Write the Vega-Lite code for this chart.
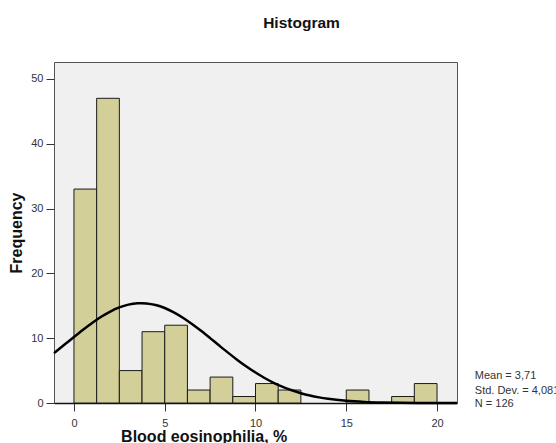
{
  "$schema": "https://vega.github.io/schema/vega-lite/v6.json",
  "width": 403,
  "height": 341,
  "autosize": {"type": "none"},
  "padding": {"left": 54, "top": 62, "right": 99, "bottom": 40},
  "background": "white",
  "config": {
    "font": "Liberation Sans",
    "view": {"fill": "#F0F0F0", "stroke": "#555555", "strokeWidth": 1}
  },
  "title": {
    "text": "Histogram",
    "fontSize": 15.5,
    "fontWeight": "bold",
    "color": "#111111",
    "anchor": "middle",
    "frame": "group",
    "baseline": "alphabetic",
    "offset": 18.5,
    "dx": 46
  },
  "datasets": {
    "bins": [
      {"bin_start": 0, "bin_end": 1.25, "count": 33},
      {"bin_start": 1.25, "bin_end": 2.5, "count": 47},
      {"bin_start": 2.5, "bin_end": 3.75, "count": 5},
      {"bin_start": 3.75, "bin_end": 5, "count": 11},
      {"bin_start": 5, "bin_end": 6.25, "count": 12},
      {"bin_start": 6.25, "bin_end": 7.5, "count": 2},
      {"bin_start": 7.5, "bin_end": 8.75, "count": 4},
      {"bin_start": 8.75, "bin_end": 10, "count": 1},
      {"bin_start": 10, "bin_end": 11.25, "count": 3},
      {"bin_start": 11.25, "bin_end": 12.5, "count": 2},
      {"bin_start": 15, "bin_end": 16.25, "count": 2},
      {"bin_start": 17.5, "bin_end": 18.75, "count": 1},
      {"bin_start": 18.75, "bin_end": 20, "count": 3}
    ],
    "curve": [
      {"x": -1.1, "y": 7.69},
      {"x": -0.5, "y": 9.05},
      {"x": 0, "y": 10.19},
      {"x": 0.5, "y": 11.3},
      {"x": 1, "y": 12.35},
      {"x": 1.5, "y": 13.3},
      {"x": 2, "y": 14.11},
      {"x": 2.5, "y": 14.74},
      {"x": 3, "y": 15.17},
      {"x": 3.5, "y": 15.38},
      {"x": 3.71, "y": 15.4},
      {"x": 4, "y": 15.36},
      {"x": 4.5, "y": 15.11},
      {"x": 5, "y": 14.65},
      {"x": 5.5, "y": 13.99},
      {"x": 6, "y": 13.16},
      {"x": 6.5, "y": 12.19},
      {"x": 7, "y": 11.13},
      {"x": 7.5, "y": 10.01},
      {"x": 8, "y": 8.86},
      {"x": 8.5, "y": 7.73},
      {"x": 9, "y": 6.65},
      {"x": 9.5, "y": 5.63},
      {"x": 10, "y": 4.7},
      {"x": 10.5, "y": 3.86},
      {"x": 11, "y": 3.12},
      {"x": 11.5, "y": 2.49},
      {"x": 12, "y": 1.96},
      {"x": 12.5, "y": 1.51},
      {"x": 13, "y": 1.15},
      {"x": 13.5, "y": 0.867},
      {"x": 14, "y": 0.641},
      {"x": 15, "y": 0.336},
      {"x": 16, "y": 0.165},
      {"x": 17, "y": 0.077},
      {"x": 18, "y": 0.034},
      {"x": 19, "y": 0.014},
      {"x": 20, "y": 0.005},
      {"x": 21.1, "y": 0.002}
    ],
    "stats": [
      {"x": 22.08, "y": 4.24, "label": "Mean = 3,71"},
      {"x": 22.08, "y": 1.82, "label": "Std. Dev. = 4,081"},
      {"x": 22.08, "y": -0.12, "label": "N = 126"}
    ]
  },
  "layer": [
    {
      "data": {"name": "bins"},
      "mark": {"type": "bar", "fill": "#D3CF98", "stroke": "#1a1a1a", "strokeWidth": 1},
      "encoding": {
        "x": {
          "field": "bin_start",
          "type": "quantitative",
          "scale": {"domain": [-1.1, 21.1], "nice": false, "zero": false},
          "axis": {
            "values": [0, 5, 10, 15, 20],
            "grid": false,
            "domain": true,
            "domainColor": "#111111",
            "domainWidth": 1.5,
            "tickSize": 8,
            "tickColor": "#333333",
            "labelFlush": false,
            "labelPadding": 6,
            "labelFontSize": 11,
            "labelColor": "#333333",
            "title": "Blood eosinophilia, %",
            "titleFontSize": 16,
            "titleFontWeight": "bold",
            "titleColor": "#111111",
            "titleX": 149.7,
            "titleY": 38,
            "titleAlign": "center",
            "titleBaseline": "alphabetic"
          }
        },
        "x2": {"field": "bin_end"},
        "y": {
          "field": "count",
          "type": "quantitative",
          "scale": {"domain": [0, 52.6], "nice": false},
          "axis": {
            "values": [0, 10, 20, 30, 40, 50],
            "grid": false,
            "domain": false,
            "tickSize": 8,
            "tickColor": "#333333",
            "labelFlush": false,
            "labelPadding": 3,
            "labelFontSize": 11,
            "labelColor": "#333333",
            "title": "Frequency",
            "titleFontSize": 16,
            "titleFontWeight": "bold",
            "titleColor": "#111111",
            "titleAngle": -90,
            "titleX": -37.5,
            "titleY": 170.5,
            "titleAlign": "center",
            "titleBaseline": "middle"
          }
        },
        "y2": {"datum": 0}
      }
    },
    {
      "data": {"name": "curve"},
      "mark": {"type": "line", "color": "#000000", "strokeWidth": 2.5, "interpolate": "monotone"},
      "encoding": {
        "x": {"field": "x", "type": "quantitative"},
        "y": {"field": "y", "type": "quantitative"}
      }
    },
    {
      "data": {"name": "stats"},
      "mark": {"type": "text", "align": "left", "baseline": "middle", "fontSize": 11, "color": "#333333"},
      "encoding": {
        "x": {"field": "x", "type": "quantitative"},
        "y": {"field": "y", "type": "quantitative"},
        "text": {"field": "label"}
      }
    }
  ]
}
